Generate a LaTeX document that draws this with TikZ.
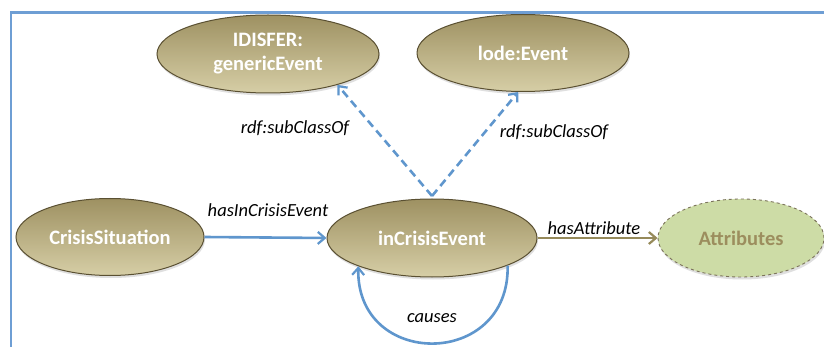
\documentclass[tikz,border=0pt]{standalone}
\usepackage{fontspec}
\setmainfont{Carlito}
\usetikzlibrary{shapes.geometric,arrows.meta,shadows}
\definecolor{oltop}{RGB}{158,145,98}
\definecolor{olbot}{RGB}{214,206,166}
\definecolor{olborder}{RGB}{90,80,50}
\definecolor{linkblue}{RGB}{95,150,205}
\definecolor{framblue}{RGB}{110,158,212}
\definecolor{olarrow}{RGB}{150,138,90}
\definecolor{attrfill}{RGB}{205,220,166}
\definecolor{attrtext}{RGB}{156,142,94}
\begin{document}
\begin{tikzpicture}[x=1pt,y=-1pt,
  concept/.style={ellipse,draw=olborder,line width=1pt,top color=oltop,bottom color=olbot,
    inner sep=0pt,text=white,font=\fontsize{20.5}{24}\selectfont\bfseries,align=center,
    drop shadow={shadow xshift=1pt,shadow yshift=-2.5pt,opacity=0.25}},
  attrnode/.style={ellipse,draw=olborder!80,dashed,line width=0.9pt,fill=attrfill,
    inner sep=0pt,text=attrtext,font=\fontsize{20.5}{24}\selectfont\bfseries,
    drop shadow={shadow xshift=1pt,shadow yshift=-2.5pt,opacity=0.25}},
  link/.style={draw=linkblue,line width=2.6pt,-{Straight Barb[length=7pt,width=12pt,line width=2.2pt]}},
  sublink/.style={link,dashed,dash pattern=on 8pt off 5pt},
  attrlink/.style={draw=olarrow,line width=2.6pt,-{Straight Barb[length=7pt,width=12pt,line width=2.2pt]}},
  lbl/.style={font=\fontsize{18.5}{20}\selectfont\itshape,text=black,inner sep=0pt}
]
\useasboundingbox (0,0) rectangle (824,347);
\fill[white] (0,0) rectangle (824,347);
% frame
\draw[framblue,line width=2.6pt] (11,360) -- (11,12.5) -- (840,12.5);

\node[concept,minimum width=222pt,minimum height=78pt] (gen) at (268,54) {IDISFER:\\genericEvent};
\node[concept,minimum width=212pt,minimum height=77pt] (lode) at (523,53) {lode:Event};
\node[concept,minimum width=188pt,minimum height=77pt] (cs) at (110,237) {CrisisSituation};
\node[concept,minimum width=210pt,minimum height=78pt] (ice) at (432,238) {inCrisisEvent};
\node[attrnode,minimum width=166pt,minimum height=78pt] (attr) at (741,238) {Attributes};

\coordinate (apex) at (432,196);
\draw[sublink] (apex) -- (gen.-24);
\draw[sublink] (apex) -- (lode.-97);
\draw[link] (cs.east) -- (ice.west);
\draw[attrlink] (ice.east) -- (attr.west);
\draw[link] (ice.-20) .. controls (510,369) and (356,369) .. (ice.-159);

\node[lbl] (l1) at (268,210) {hasInCrisisEvent};
\node[lbl] (l2) at (594,228) {hasAttribute};
\node[lbl] (l3) at (295,128) {rdf:subClassOf};
\node[lbl] (l4) at (554,132) {rdf:subClassOf};
\node[lbl] (l5) at (432,318) {causes};
\end{tikzpicture}
\end{document}
